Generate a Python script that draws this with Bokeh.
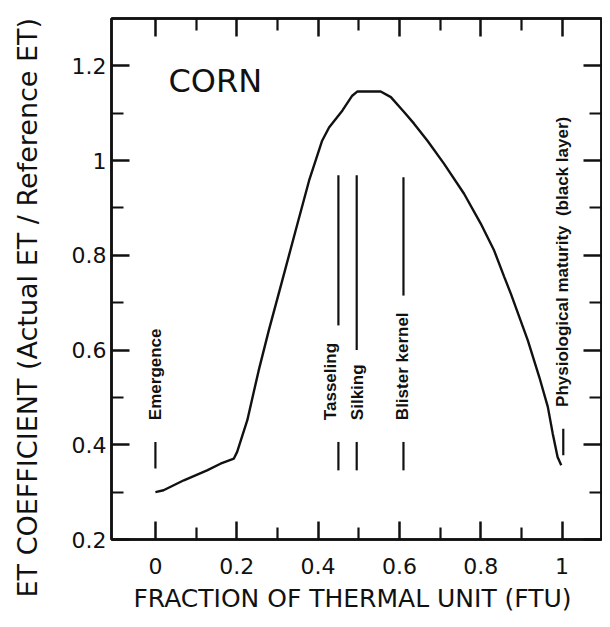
import math
from bokeh.plotting import figure
from bokeh.layouts import row
from bokeh.models import Range1d, LinearAxis, FixedTicker, Label, ColumnDataSource, Title
from bokeh.core.properties import value
from bokeh.embed import file_html
from bokeh.resources import INLINE

# ---- data ----
ftu = [0.0, 0.02, 0.07, 0.127, 0.16, 0.193, 0.201, 0.226, 0.254, 0.279, 0.312,
       0.345, 0.378, 0.41, 0.427, 0.46, 0.484, 0.497, 0.554, 0.579, 0.612, 0.636,
       0.669, 0.71, 0.759, 0.8, 0.833, 0.858, 0.874, 0.916, 0.944, 0.965, 0.977,
       0.989, 0.998]
et_coef = [0.300, 0.304, 0.325, 0.346, 0.360, 0.371, 0.385, 0.452, 0.557, 0.642, 0.747,
           0.853, 0.958, 1.042, 1.070, 1.106, 1.137, 1.146, 1.146, 1.134, 1.102, 1.078,
           1.042, 0.993, 0.930, 0.867, 0.810, 0.754, 0.719, 0.620, 0.543, 0.480, 0.424,
           0.374, 0.357]

stage_names = ["Emergence", "Tasseling", "Silking", "Blister kernel",
               "Physiological maturity\u00a0 (black layer)"]
stage_x = [0.0, 0.45, 0.495, 0.61, 1.003]
stage_label_x = [0.0, 0.43, 0.496, 0.608, 1.0]
stage_label_y = [0.452, 0.452, 0.452, 0.452, 0.48]
stage_mark_y0 = [0.350, 0.346, 0.346, 0.346, 0.378]
stage_mark_y1 = [0.406, 0.406, 0.406, 0.406, 0.434]

upper_x = [0.45, 0.495, 0.61]
upper_y0 = [0.652, 0.600, 0.715]
upper_y1 = [0.969, 0.969, 0.965]

x_ticks = [0.0, 0.2, 0.4, 0.6, 0.8, 1.0]
x_tick_labels = ["0", "0.2", "0.4", "0.6", "0.8", "1"]
x_minor = [0.1, 0.3, 0.5, 0.7, 0.9]
y_ticks = [0.2, 0.4, 0.6, 0.8, 1.0, 1.2]
y_tick_labels = ["0.2", "0.4", "0.6", "0.8", "1", "1.2"]
y_minor = [0.3, 0.5, 0.7, 0.9, 1.1]

x_title = "FRACTION OF THERMAL UNIT  (FTU)"
y_title = "ET COEFFICIENT (Actual ET / Reference ET)"
crop_name = "CORN"

INK = "#111111"
H = 619
LW = 66          # width of the strip that carries the vertical title

# ---- strip with the y title (kept outside the plot frame) ----
lab = figure(width=LW, height=H, x_range=Range1d(0, 1), y_range=Range1d(0.2, 1.3),
             output_backend="svg", toolbar_location=None,
             x_axis_type=None, y_axis_type=None,
             min_border_left=0, min_border_right=0, min_border_top=18,
             min_border_bottom=80)
lab.outline_line_color = None
lab.xgrid.visible = False
lab.ygrid.visible = False
lab.add_layout(Title(text=y_title, align="left", offset=-58, vertical_align="middle",
                     standoff=45, text_font="DejaVu Sans", text_font_size="27px",
                     text_font_style="normal", text_color=INK), "left")

# ---- main plot ----
p = figure(width=602 - LW, height=H, x_range=Range1d(-0.108, 1.097),
           y_range=Range1d(0.2, 1.3), output_backend="svg", toolbar_location=None,
           min_border_left=111 - LW, min_border_right=1, min_border_top=18,
           min_border_bottom=80)
p.xgrid.visible = False
p.ygrid.visible = False
p.outline_line_color = INK
p.outline_line_width = 2.5
p.background_fill_color = "white"
p.border_fill_color = "white"


def style_axis(ax, ticks, minor, labels, show_labels):
    ax.ticker = FixedTicker(ticks=ticks, minor_ticks=minor)
    ax.major_tick_in = 18
    ax.major_tick_out = 0
    ax.minor_tick_in = 12
    ax.minor_tick_out = 0
    ax.axis_line_color = INK
    ax.axis_line_width = 2.5
    ax.major_tick_line_color = INK
    ax.major_tick_line_width = 2.5
    ax.minor_tick_line_color = INK
    ax.minor_tick_line_width = 2.2
    if show_labels:
        ax.major_label_overrides = dict(zip(ticks, labels))
        ax.major_label_text_font = "DejaVu Sans"
        ax.major_label_text_font_size = "22px"
        ax.major_label_text_color = INK
    else:
        ax.major_label_text_color = None
        ax.major_label_text_font_size = "1px"
        ax.major_label_standoff = 0


xa = p.xaxis[0]
style_axis(xa, x_ticks, x_minor, x_tick_labels, True)
xa.major_label_standoff = 18
xa.axis_label = x_title
xa.axis_label_text_font = "DejaVu Sans"
xa.axis_label_text_font_size = "25px"
xa.axis_label_text_font_style = "normal"
xa.axis_label_text_color = INK
xa.axis_label_standoff = 7

ya = p.yaxis[0]
style_axis(ya, y_ticks, y_minor, y_tick_labels, True)
ya.major_label_standoff = 5

top = LinearAxis()
style_axis(top, x_ticks, x_minor, x_tick_labels, False)
p.add_layout(top, "above")
right = LinearAxis()
style_axis(right, y_ticks, y_minor, y_tick_labels, False)
p.add_layout(right, "right")

# curve
p.line(ftu, et_coef, line_color=INK, line_width=2.4)

# stage markers
p.segment(x0=stage_x, y0=stage_mark_y0, x1=stage_x, y1=stage_mark_y1,
          line_color=INK, line_width=2.2)
p.segment(x0=upper_x, y0=upper_y0, x1=upper_x, y1=upper_y1,
          line_color=INK, line_width=2.2)

src = ColumnDataSource(dict(x=stage_label_x, y=stage_label_y, t=stage_names))
p.text(x="x", y="y", text="t", source=src, angle=math.pi / 2,
       text_align="left", text_baseline="middle",
       text_font=value("Liberation Sans"), text_font_style="bold",
       text_font_size="17px", text_color=INK)

p.add_layout(Label(x=0.032, y=1.169, text=crop_name, text_font="DejaVu Sans",
                   text_font_size="32px", text_color=INK,
                   text_align="left", text_baseline="alphabetic"))

layout = row(lab, p, spacing=0)
open("out.html", "w").write(file_html(layout, INLINE))
